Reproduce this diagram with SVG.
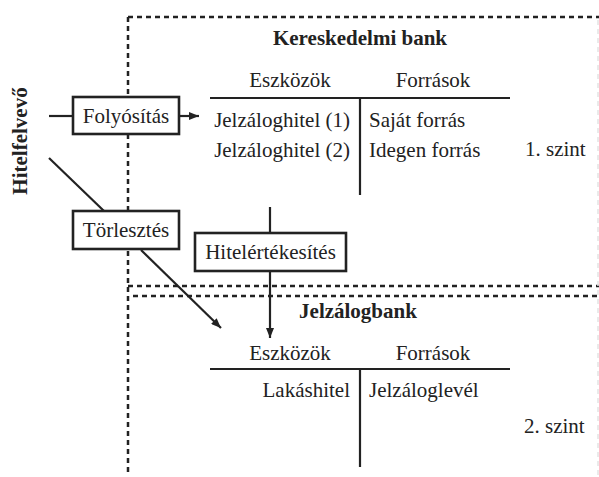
<svg xmlns="http://www.w3.org/2000/svg" width="599" height="477" viewBox="0 0 599 477">
<style>
text{font-family:"Liberation Serif","Times New Roman",serif;font-size:21px;fill:#222}
.b{font-weight:bold}
.dash{stroke:#222;stroke-width:2.5;stroke-dasharray:5 4;fill:none}
.faint{stroke:#e4e4e4;stroke-width:1.5;stroke-dasharray:5 4;fill:none}
.ln{stroke:#222;stroke-width:2.2;fill:none}
.box{fill:#fff;stroke:#222;stroke-width:2.6}
</style>
<defs>
<marker id="ah" viewBox="0 0 10 8" refX="10" refY="4" markerWidth="10" markerHeight="8" markerUnits="userSpaceOnUse" orient="auto">
<path d="M0,0 L10,4 L0,8 z" fill="#222"/>
</marker>
</defs>
<g id="frames">
<path class="dash" d="M128,17 H599"/>
<path class="dash" d="M128,17 V472"/>
<path class="dash" d="M128,286 H599"/>
<path class="dash" d="M133,296 H599"/>
<path class="faint" d="M598,20 V477"/>
</g>
<g id="connectors">
<path class="ln" d="M49,116 H73"/>
<path class="ln" d="M179,116 H199" marker-end="url(#ah)"/>
<path class="ln" d="M49,158 L104,211"/>
<path class="ln" d="M141,250 L221,328" marker-end="url(#ah)"/>
<path class="ln" d="M270,207 V233"/>
<path class="ln" d="M270,271 V338" marker-end="url(#ah)"/>
</g>
<g id="hitelfelvevo">
<text class="b" transform="translate(27,141) rotate(-90)" text-anchor="middle">Hitelfelvevő</text>
</g>
<g id="folyositas">
<rect class="box" x="73" y="97" width="106" height="37"/>
<text x="126" y="123" text-anchor="middle">Folyósítás</text>
</g>
<g id="torlesztes">
<rect class="box" x="73" y="211" width="106" height="38"/>
<text x="126" y="237" text-anchor="middle">Törlesztés</text>
</g>
<g id="hitelertekesites">
<rect class="box" x="195" y="233" width="151" height="38"/>
<text x="270.5" y="259" text-anchor="middle">Hitelértékesítés</text>
</g>
<g id="kereskedelmi-bank">
<text class="b" x="360" y="45" text-anchor="middle">Kereskedelmi bank</text>
<text x="290" y="87" text-anchor="middle">Eszközök</text>
<text x="433" y="87" text-anchor="middle">Források</text>
<path class="ln" d="M210,98 H510 M360,98 V195"/>
<text x="350" y="127" text-anchor="end">Jelzáloghitel (1)</text>
<text x="350" y="157" text-anchor="end">Jelzáloghitel (2)</text>
<text x="369" y="127">Saját forrás</text>
<text x="369" y="157">Idegen forrás</text>
<text x="525" y="156">1. szint</text>
</g>
<g id="jelzalogbank">
<text class="b" x="358" y="318" text-anchor="middle">Jelzálogbank</text>
<text x="290" y="360" text-anchor="middle">Eszközök</text>
<text x="433" y="360" text-anchor="middle">Források</text>
<path class="ln" d="M210,369 H510 M360,369 V467"/>
<text x="350" y="397" text-anchor="end">Lakáshitel</text>
<text x="369" y="397">Jelzáloglevél</text>
<text x="524" y="433">2. szint</text>
</g>
</svg>
